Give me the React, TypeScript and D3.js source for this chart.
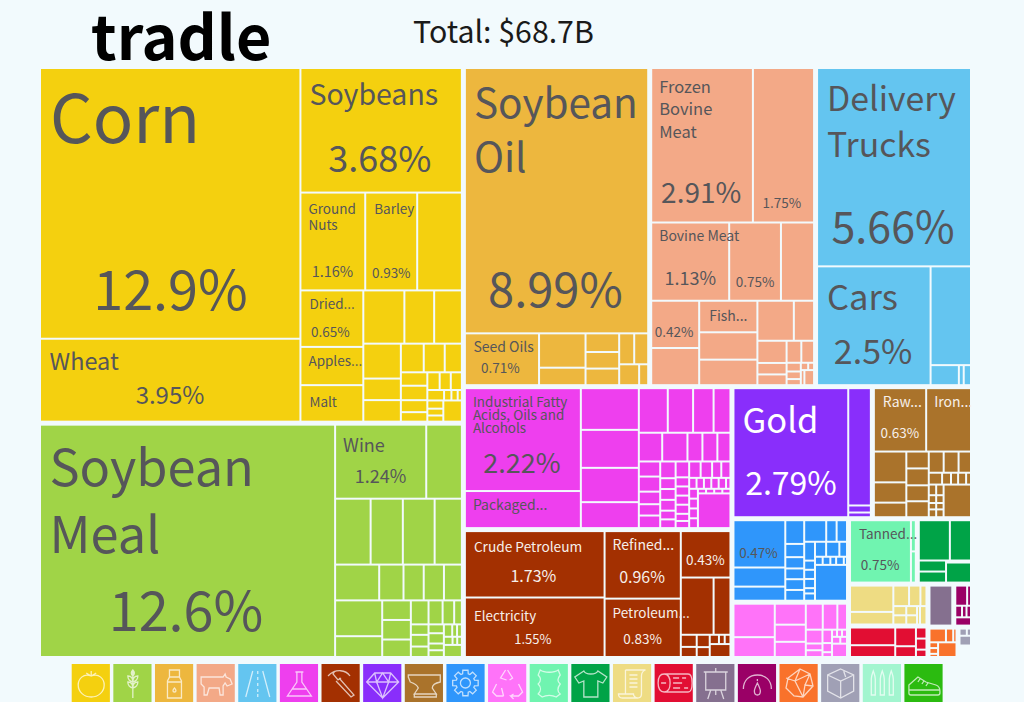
import React from "react";
import * as d3 from "d3";

type Node = { value?: number; name?: string; pct?: boolean; dir?: "row" | "col"; color?: string; children?: Node[] };
type Item = Node | number;
const toNode = (i: Item): Node => (typeof i === "number" ? { value: i } : i);
const row = (...c: Item[]): Node => ({ dir: "row", children: c.map(toNode) });
const col = (...c: Item[]): Node => ({ dir: "col", children: c.map(toNode) });
const L = (name: string, value: number, pct = true): Node => ({ name, value, pct });
const P = (value: number): Node => ({ value, pct: true });

// values in % of total exports
const vegetableProducts = row(
  col(L("Corn", 12.9), L("Wheat", 3.95)),
  col(
    L("Soybeans", 3.68),
    row(L("Ground Nuts", 1.16), L("Barley", 0.93), 0.8),
    row(
      col(L("Dried...", 0.65), L("Apples...", 0.44, false), L("Malt", 0.42, false)),
      col(
        row(0.4, 0.29, 0.27),
        row(
          col(0.24, 0.148, 0.148),
          col(
            row(0.12, 0.11, 0.09),
            row(
              col(0.065, 0.07, 0.058, 0.046),
              col(
                row(0.04, 0.036, 0.036),
                row(0.032, 0.014, 0.012, 0.008),
                row(col(0.024, 0.02, 0.018), 0.072)
              )
            )
          )
        )
      )
    )
  )
);
const animalFeed = row(
  L("Soybean Meal", 12.6),
  col(
    row(L("Wine", 1.24), 0.485),
    row(0.43, 0.39, 0.385, 0.33),
    row(0.29, 0.16, 0.133, 0.133, 0.118),
    row(
      col(0.31, 0.18),
      col(0.103, 0.103, 0.092),
      col(
        row(0.078, 0.062, 0.051, 0.034),
        row(
          col(0.034, 0.038, 0.034),
          col(0.025, 0.029, 0.019, 0.019),
          col(row(0.019, 0.011, 0.011), row(0.013, 0.007, 0.007), 0.04)
        )
      )
    )
  )
);
const foodstuffs = col(
  L("Soybean Oil", 8.99),
  row(
    L("Seed Oils", 0.71),
    col(0.295, 0.15),
    col(0.116, 0.103, 0.103),
    col(row(0.086, 0.08), row(0.077, 0.035))
  )
);
const animalProducts = col(
  row(L("Frozen Bovine Meat", 2.91), P(1.75)),
  row(L("Bovine Meat", 1.13), P(0.75), 0.48),
  row(
    col(P(0.42), 0.33),
    col(L("Fish...", 0.34, false), 0.295, 0.275),
    col(
      row(0.27, 0.15),
      row(
        col(0.12, 0.062, 0.058),
        col(row(0.06, 0.052), row(col(0.023, 0.02, 0.016), col(row(0.01, 0.008), row(0.01, 0.027))))
      )
    )
  )
);
const transportation = col(
  L("Delivery Trucks", 5.66),
  row(L("Cars", 2.5), col(0.74, row(0.105, 0.018, 0.027)))
);
const chemicals = row(
  col(L("Industrial Fatty Acids, Oils and Alcohols", 2.22), L("Packaged...", 0.8, false)),
  col(0.45, 0.41, 0.37, 0.28),
  col(
    row(0.24, 0.21, 0.17, 0.14),
    row(0.125, 0.135, 0.08, 0.08, 0.07),
    row(
      col(0.06, 0.06, 0.05, 0.045, 0.05),
      col(0.048, 0.031, 0.031, 0.031, 0.025, 0.025),
      col(0.04, 0.023, 0.023, 0.023, 0.023, 0.018, 0.018),
      col(
        row(0.035, 0.035, 0.028, 0.028),
        row(0.015, 0.015, 0.015, 0.015, 0.015, 0.009),
        row(col(0.016, 0.016, 0.016, 0.016), col(row(0.007, 0.007, 0.007, 0.007), 0.21))
      )
    )
  )
);
const minerals = row(
  col(L("Crude Petroleum", 1.73), L("Electricity", 1.55)),
  col(L("Refined...", 0.96), L("Petroleum...", 0.83)),
  col(
    P(0.43),
    row(0.35, 0.18),
    row(col(0.036, 0.03), col(0.03, 0.024), col(row(0.016, 0.01, 0.01), 0.05))
  )
);
const preciousMetals = row(L("Gold", 2.79), col(0.5, 0.03, 0.02));
const metals = col(
  row(L("Raw...", 0.63), L("Iron...", 0.54, false)),
  row(
    col(0.19, 0.125, 0.09),
    col(0.072, 0.072, 0.068, 0.068),
    col(
      row(0.06, 0.06, 0.05),
      row(0.03, 0.02, 0.016, 0.018, 0.011),
      row(col(0.015, 0.011, 0.009, 0.011), col(0.015, 0.011, 0.009, 0.011), 0.17)
    )
  )
);
const machines = row(
  col(P(0.47), 0.19, 0.14),
  col(0.086, 0.048, 0.041, 0.039, 0.039, 0.039),
  col(
    row(0.091, 0.043, 0.043),
    row(
      col(0.039, 0.019, 0.019, 0.019, 0.011, 0.015),
      col(row(0.032, 0.038, 0.022), row(0.012, 0.012, 0.009, 0.012, 0.005), 0.22)
    )
  )
);
const plastics = row(
  col(0.27, 0.16),
  col(0.127, 0.104, 0.092),
  col(
    row(0.086, 0.074, 0.049),
    row(
      col(0.045, 0.022, 0.022),
      col(0.025, 0.017, 0.009),
      col(row(0.007, 0.007, 0.007), row(0.011, 0.009), 0.039)
    )
  )
);
const hides = row(L("Tanned...", 0.75), col(0.03, 0.03));
const textiles = col(row(0.25, 0.17), row(col(0.06, 0.06), col(0.01, 0.1)));
const paperGoods = row(
  col(0.23, 0.11),
  col(row(0.065, 0.047, 0.025), row(col(0.024, 0.024), col(0.02, 0.02), 0.011, 0.024))
);
const wood = row(col(0.165, 0.11), col(0.08, 0.046), col(0.024, 0.024, 0.016));
const artAntiques: Node = { value: 0.2 };
const instruments = col(row(0.055, 0.018), row(0.018, 0.012, 0.012), 0.03);
const stones = col(row(0.05, 0.022, 0.01), row(col(0.011, 0.011, 0.006), 0.06));
const miscellaneous = col(row(0.014, 0.008), 0.03);
const arms: Node = { value: 0.009 };
const unseen: Node = { value: 0.014 };
const footwear: Node = { value: 0.007 };

const sectionColors = {
  vegetable: "#F4D00F", feed: "#A0D447", food: "#EDB73E", animal: "#F3A987", transport: "#64C5F0",
  chemical: "#EE3FEE", mineral: "#A33001", precious: "#892EFB", metal: "#AA732B", machine: "#2F96FB",
  plastic: "#FF73F9", hide: "#70F4B0", textile: "#00A347", paper: "#EEDC83", wood: "#E20E33",
  art: "#85708F", instrument: "#9A0066", stone: "#F9722B", misc: "#A0A0B5", arms: "#A2F5CF", foot: "#2BBB10",
};
const legendColors = [
  "#F4D00F", "#A0D447", "#EDB73E", "#F3A987", "#64C5F0", "#EE3FEE", "#A33001", "#892EFB", "#AA732B", "#2F96FB",
  "#FF73F9", "#70F4B0", "#00A347", "#EEDC83", "#E20E33", "#85708F", "#9A0066", "#F9722B", "#A0A0B5", "#A2F5CF", "#2BBB10",
];

const sec = (color: string, n: Node): Node => ({ ...n, color });
const c = sectionColors;
const tree: Node = row(
  col(sec(c.vegetable, vegetableProducts), sec(c.feed, animalFeed)),
  col(
    row(sec(c.food, foodstuffs), sec(c.animal, animalProducts), sec(c.transport, transportation)),
    row(
      col(sec(c.chemical, chemicals), sec(c.mineral, minerals)),
      col(
        row(sec(c.precious, preciousMetals), sec(c.metal, metals)),
        row(
          col(sec(c.machine, machines), sec(c.plastic, plastics)),
          col(
            row(sec(c.hide, hides), sec(c.textile, textiles)),
            row(
              col(sec(c.paper, paperGoods), sec(c.wood, wood)),
              col(
                row(sec(c.art, artAntiques), sec(c.instrument, instruments)),
                row(
                  sec(c.stone, stones),
                  col(sec(c.misc, miscellaneous), row(sec(c.arms, arms), sec("none", unseen), sec(c.foot, footwear)))
                )
              )
            )
          )
        )
      )
    )
  )
);

// label placement (relative to each cell), not data
type LS = { lines?: string[]; size?: number; dx?: number; dy?: number[]; ps?: number; px?: number; py?: number; fill?: string };
const W = "#F6EFEA";
const labelStyle: Record<string, LS> = {
  Corn: { size: 67, dx: 9, dy: [74], ps: 54, px: 129.5, py: 241 },
  Wheat: { size: 23.5, dx: 8.5, dy: [30], ps: 24, px: 129, py: 64 },
  Soybeans: { size: 28.5, dx: 8, dy: [36], ps: 36, px: 78.5, py: 103 },
  "Ground Nuts": { lines: ["Ground", "Nuts"], size: 13.5, dx: 7, dy: [20, 36], ps: 14.5, px: 31, py: 83 },
  Barley: { size: 13.5, dx: 8, dy: [20], ps: 13.5, px: 25, py: 84 },
  "Dried...": { size: 13.5, dx: 8, dy: [18], ps: 13.5, px: 29, py: 46 },
  "Apples...": { size: 13.5, dx: 7, dy: [18] },
  Malt: { size: 13.5, dx: 8, dy: [21] },
  "Soybean Oil": { lines: ["Soybean", "Oil"], size: 40.5, dx: 8, dy: [49, 103], ps: 47, px: 89.5, py: 238 },
  "Seed Oils": { size: 14, dx: 7.5, dy: [18], ps: 13.5, px: 34.5, py: 39 },
  "Frozen Bovine Meat": { lines: ["Frozen", "Bovine", "Meat"], size: 16.5, dx: 7, dy: [24, 46, 69], ps: 28, px: 49, py: 134 },
  "1.75": { ps: 13.5, px: 28, py: 139 },
  "Bovine Meat": { size: 14, dx: 7, dy: [18], ps: 18, px: 38, py: 62 },
  "0.75": { ps: 13.5, px: 25, py: 64 },
  "0.42": { ps: 13.5, px: 22, py: 35 },
  "Fish...": { size: 14, dx: 9, dy: [19] },
  "Delivery Trucks": { lines: ["Delivery", "Trucks"], size: 33.8, dx: 9, dy: [42, 88], ps: 43, px: 75, py: 174 },
  Cars: { size: 34.5, dx: 9, dy: [43], ps: 34, px: 55, py: 97 },
  "Soybean Meal": { lines: ["Soybean", "Meal"], size: 50.5, dx: 8.5, dy: [60, 127], ps: 54, px: 145, py: 205 },
  Wine: { size: 18, dx: 7, dy: [26], ps: 18, px: 44.5, py: 57 },
  "Industrial Fatty Acids, Oils and Alcohols": { lines: ["Industrial Fatty", "Acids, Oils and", "Alcohols"], size: 13.5, dx: 7, dy: [18, 31, 44], ps: 27, px: 56, py: 84 },
  "Packaged...": { size: 14, dx: 7, dy: [18] },
  "Crude Petroleum": { size: 13.7, dx: 8, dy: [20], ps: 16, px: 67.5, py: 50, fill: W },
  Electricity: { size: 13.4, dx: 8, dy: [22], ps: 13, px: 67, py: 45, fill: W },
  "Refined...": { size: 14, dx: 7, dy: [18], ps: 16, px: 36.5, py: 51, fill: W },
  "Petroleum...": { size: 13.5, dx: 7, dy: [18], ps: 13.5, px: 37, py: 44, fill: W },
  "0.43": { ps: 13.5, px: 23.5, py: 33, fill: W },
  Gold: { size: 34.5, dx: 8, dy: [44], ps: 32, px: 56.5, py: 106, fill: "#FFFFFF" },
  "Raw...": { size: 14, dx: 8, dy: [18], ps: 13.5, px: 25, py: 49, fill: W },
  "Iron...": { size: 14, dx: 7, dy: [18], fill: W },
  "0.47": { ps: 13.5, px: 24, py: 37 },
  "Tanned...": { size: 13.5, dx: 8, dy: [18], ps: 13.5, px: 29, py: 49 },
};

const FONT = "'Noto Sans CJK SC', Lato, sans-serif";
const TEXT = "#56565A";

const root = d3.hierarchy<Node>(tree).sum((d) => (d.children ? 0 : d.value || 0));
const layout = d3
  .treemap<Node>()
  .size([929, 587])
  .round(false)
  .paddingInner((n) => (n.ancestors().some((a) => a.data.color) ? 2 : 5))
  .tile((n, x0, y0, x1, y1) => (n.data.dir === "col" ? d3.treemapSlice : d3.treemapDice)(n as any, x0, y0, x1, y1));
layout(root);

const gearPath = d3
  .range(8)
  .flatMap((i) => {
    const a = (i * Math.PI) / 4;
    return [
      [a - 0.3, 9.5],
      [a - 0.2, 13],
      [a + 0.2, 13],
      [a + 0.3, 9.5],
    ] as [number, number][];
  });
const gearD = d3.lineRadial().curve(d3.curveLinearClosed)(gearPath) || "";

const icons: string[] = [
  "M19 12c8-3 13 3 13 9 0 7-6 12-13 12S6 28 6 21c0-6 5-12 13-9zM14 9l5 3 5-3M19 7v5",
  "M19 6v28M19 12c-2-2-2-4 0-6 2 2 2 4 0 6zM19 18c-4-1-5-3-5-6 4 0 5 3 5 6zM19 18c4-1 5-3 5-6-4 0-5 3-5 6zM19 24c-4-1-5-3-5-6 4 0 5 3 5 6zM19 24c4-1 5-3 5-6-4 0-5 3-5 6z",
  "M14 6h10v7l2 4v17H12V17l2-4zM14 13h10M12 18h14M19 24c-2 2-2 4 0 4s2-2 0-4z",
  "M4 13h22l2-3 1 3 4 2 2 5-5 2-2-3-2 3v9h-3l-1-7H12l-2 7H7v-8l-3-3z",
  "M14 7l-7 26M24 7l7 26M19 7v3M19 13v3M19 19v3M19 25v3M19 30v3",
  "M15 8h8M16.5 8v10L7 32h24L21.5 18V8M12 25h14",
  "M6 12C14 4 24 6 28 12M13 7l-2 3 5 6 3-2M17 14l15 17-3 2L14 17",
  "M11 9h16l8 9-16 16L3 18zM3 18h32M13 18l6 16 6-16M11 9l2 9 6-9 6 9 2-9",
  "M3 11h32v7c-5 1-8 3-8 6l4 6H9l4-6c-1-3-5-5-8-6l-2-5zM9 30h22v3H9z",
  gearD,
  "M19 6l5 8-3 2M17 6l-5 8 6 2M8 20l-4 8 4 4h7M13 24l2 8M30 20l4 8-4 4h-8l3 3M25 30l-3 2",
  "M10 6c4 3 14 3 18 0l2 5c-3 4-3 6 0 9-3 4-3 8 0 10l-4 3c-4-2-10-2-14 0l-4-3c3-3 3-7 0-10 3-3 3-6 0-9z",
  "M12 7L3 13l4 6 5-2v16h14V17l5 2 4-6-9-6c-2 4-12 4-14 0z",
  "M12 6h20c-3 1-4 3-4 6v18c0 3-2 4-4 4H9c-3 0-4-2-4-4h15c0 2 2 4 4 4M12 6v24M16 11h8M16 15h8M16 19h8M16 23h8",
  "M9 10h24c3 0 4 4 4 9s-1 9-4 9H9M9 10c-4 0-6 4-6 9s2 9 6 9 6-4 6-9-2-9-6-9zM6 19h5M18 14h6M27 14h4M18 19h9M18 24h7M29 24h4",
  "M7 8h24M9 8v18h20V8M19 4v4M14 26l-3 9M24 26l3 9M19 26v5",
  "M5 25C5 16 11 11 19 11s14 5 14 14M19 15v2M19 19c-2 4-3 6-3 8s1 4 3 4 3-2 3-4-1-4-3-8z",
  "M8 14L20 5l10 5 3 12-10 11-9-1-8-8zM20 5l-5 12 8 16M15 17l-9-3M15 17l15-7M23 33l2-12 8 1M25 21l5-11",
  "M19 5l13 6v16l-13 7-13-7V11zM6 11l13 6 13-6M19 17v17M22 7l2 6",
  "M8 31V15c0-3 1-5 2-8 1 3 2 5 2 8v16zM17 31V15c0-3 1-5 2-8 1 3 2 5 2 8v16zM26 31V15c0-3 1-5 2-8 1 3 2 5 2 8v16z",
  "M4 21l9-8 8 5 10 3c3 1 4 3 4 6v2c0 1-1 2-2 2H6c-1 0-2-1-2-2zM4 26h31M15 15l-2 3M19 17l-2 3M23 19l-2 3",
];

const fmtPct = (v: number) => `${v}%`;

export default function App() {
  const leaves = root.leaves();
  const colorOf = (n: d3.HierarchyRectangularNode<Node>) => n.ancestors().find((a) => a.data.color)?.data.color || "none";
  const ox = 41, oy = 69;
  const legendX = d3.scaleBand<number>().domain(d3.range(legendColors.length)).range([71.7, 942.6]).paddingInner(0.083).paddingOuter(0);
  return (
    <svg width={1024} height={702} style={{ position: "fixed", left: 0, top: 0, background: "#F2FAFD" }} fontFamily={FONT}>
      <text x={91} y={60} fontSize={61} fontWeight={700} fill="#000">tradle</text>
      <text x={413} y={43} fontSize={30.3} fill="#1a1a1a">Total: $68.7B</text>
      <g transform={`translate(${ox},${oy})`}>
        {(leaves as d3.HierarchyRectangularNode<Node>[]).map((n, i) => (
          <rect key={i} x={n.x0} y={n.y0} width={Math.max(0, n.x1 - n.x0)} height={Math.max(0, n.y1 - n.y0)} fill={colorOf(n)} />
        ))}
        {(leaves as d3.HierarchyRectangularNode<Node>[])
          .filter((n) => n.data.pct || n.data.name)
          .map((n, i) => {
            const key = n.data.name || String(n.data.value);
            const s = labelStyle[key] || {};
            const fill = s.fill || TEXT;
            const lines = s.lines || (n.data.name ? [n.data.name] : []);
            return (
              <g key={i} fill={fill}>
                {lines.map((t, j) => (
                  <text key={j} x={n.x0 + (s.dx || 0)} y={n.y0 + (s.dy?.[j] || 0)} fontSize={s.size}>{t}</text>
                ))}
                {n.data.pct && (
                  <text x={n.x0 + (s.px || 0)} y={n.y0 + (s.py || 0)} fontSize={s.ps} textAnchor="middle">{fmtPct(n.data.value!)}</text>
                )}
              </g>
            );
          })}
      </g>
      {legendColors.map((col, i) => (
        <g key={i} transform={`translate(${legendX(i)},664)`}>
          <rect width={legendX.bandwidth()} height={38} fill={col} />
          <path d={icons[i]} transform={i === 9 ? "translate(19,19)" : "translate(0.5,0)"} fill="none" stroke="#fff" strokeOpacity={0.7} strokeWidth={1.3} />
          {i === 9 && <circle cx={19} cy={19} r={5} fill="none" stroke="#fff" strokeOpacity={0.7} strokeWidth={1.3} />}
        </g>
      ))}
    </svg>
  );
}
